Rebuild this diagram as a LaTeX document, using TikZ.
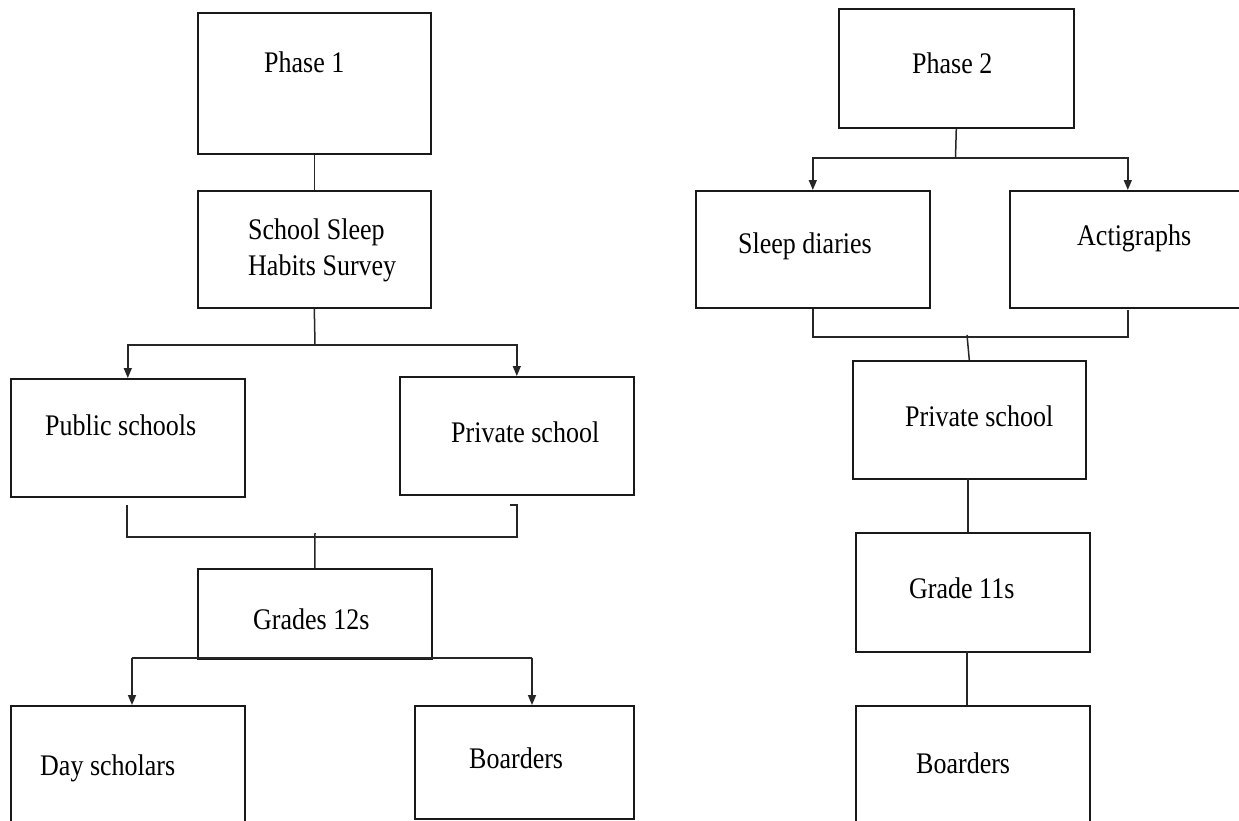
\documentclass[tikz,border=0pt]{standalone}
\usepackage{fontspec}
\setmainfont{Liberation Serif}
\usetikzlibrary{arrows.meta}
\begin{document}
\begin{tikzpicture}[x=1pt,y=-1pt,
  box/.style={draw=black!90,line width=1.6pt,rectangle,inner sep=0pt,anchor=north west},
  txt/.style={anchor=base west,inner sep=0pt,font=\fontsize{26}{31}\selectfont},
  conn/.style={draw=black!85,line width=1.5pt},
  arr/.style={conn,-{Triangle[length=10pt,width=8pt]}}]
\useasboundingbox (0,0) rectangle (1239,820);
\node[box,minimum width=233pt,minimum height=141pt] (p1) at (197,12) {};
\node[box,minimum width=233pt,minimum height=117pt] (sv) at (197,190) {};
\node[box,minimum width=234pt,minimum height=118pt] (pub) at (10,378) {};
\node[box,minimum width=234pt,minimum height=118pt] (pri) at (399,376) {};
\node[box,minimum width=234pt,minimum height=90pt] (g12) at (197,568) {};
\node[box,minimum width=234pt,minimum height=125pt] (day) at (10,705) {};
\node[box,minimum width=219pt,minimum height=113pt] (boa) at (414,705) {};
\node[box,minimum width=235pt,minimum height=119pt] (p2) at (838,8) {};
\node[box,minimum width=234pt,minimum height=117pt] (sd) at (695,190) {};
\node[box,minimum width=236pt,minimum height=117pt] (act) at (1009,190) {};
\node[box,minimum width=233pt,minimum height=118pt] (pr2) at (852,360) {};
\node[box,minimum width=234pt,minimum height=119pt] (g11) at (855,532) {};
\node[box,minimum width=234pt,minimum height=125pt] (bo2) at (855,705) {};
% texts
\newcommand{\vs}[1]{\scalebox{1}[1.15]{#1}}
\node[txt] (tp1) at (264,72) {\vs{Phase 1}};
\node[txt] (tsv1) at (248,239) {\vs{School Sleep}};
\node[txt] (tsv2) at (248,275) {\vs{Habits Survey}};
\node[txt] (tpub) at (45,435) {\vs{Public schools}};
\node[txt] (tpri) at (451,442) {\vs{Private school}};
\node[txt] (tg12) at (253,629) {\vs{Grades 12s}};
\node[txt] (tday) at (40,775) {\vs{Day scholars}};
\node[txt] (tboa) at (469,768) {\vs{Boarders}};
\node[txt] (tp2) at (912,73) {\vs{Phase 2}};
\node[txt] (tsd) at (738,253) {\vs{Sleep diaries}};
\node[txt] (tact) at (1077,245) {\vs{Actigraphs}};
\node[txt] (tpr2) at (905,426) {\vs{Private school}};
\node[txt] (tg11) at (909,598) {\vs{Grade 11s}};
\node[txt] (tbo2) at (916,773) {\vs{Boarders}};
% left connectors
\draw[conn] (p1.south) -- (sv.north);
\coordinate (j1) at (315,345);
\draw[conn] (sv.south) -- (j1);
\draw[arr] (j1) -| (pub.north);
\draw[arr] (j1) -| (pri.north);
\coordinate (bl) at (127,505);
\coordinate (br) at (517,505);
\coordinate (bt) at (510,505);
\coordinate (bs) at (315,533);
\draw[conn] (bl) -- (127,537) -- (517,537) -- (br) -- (bt);
\draw[conn] (bs) -- (g12.north);
\coordinate (h1) at (132,658);
\coordinate (h2) at (532,658);
\draw[conn] (h1) -- (h2);
\draw[arr] (h1) -- (h1 |- day.north);
\draw[arr] (h2) -- (h2 |- boa.north);
% right connectors
\coordinate (j2) at (955.5,158);
\draw[conn] (p2.south) -- (j2);
\draw[arr] (j2) -| (sd.north);
\draw[arr] (j2) -| (act.north);
\coordinate (cl) at (813,309);
\coordinate (cr) at (1128,310);
\coordinate (cs) at (967,335);
\draw[conn] (cl) -- (813,337) -- (1128,337) -- (cr);
\draw[conn] (cs) -- (pr2.north);
\coordinate (k1) at (968,478);
\draw[conn] (k1) -- (k1 |- g11.north);
\coordinate (k2) at (967,651);
\draw[conn] (k2) -- (k2 |- bo2.north);
\end{tikzpicture}
\end{document}
